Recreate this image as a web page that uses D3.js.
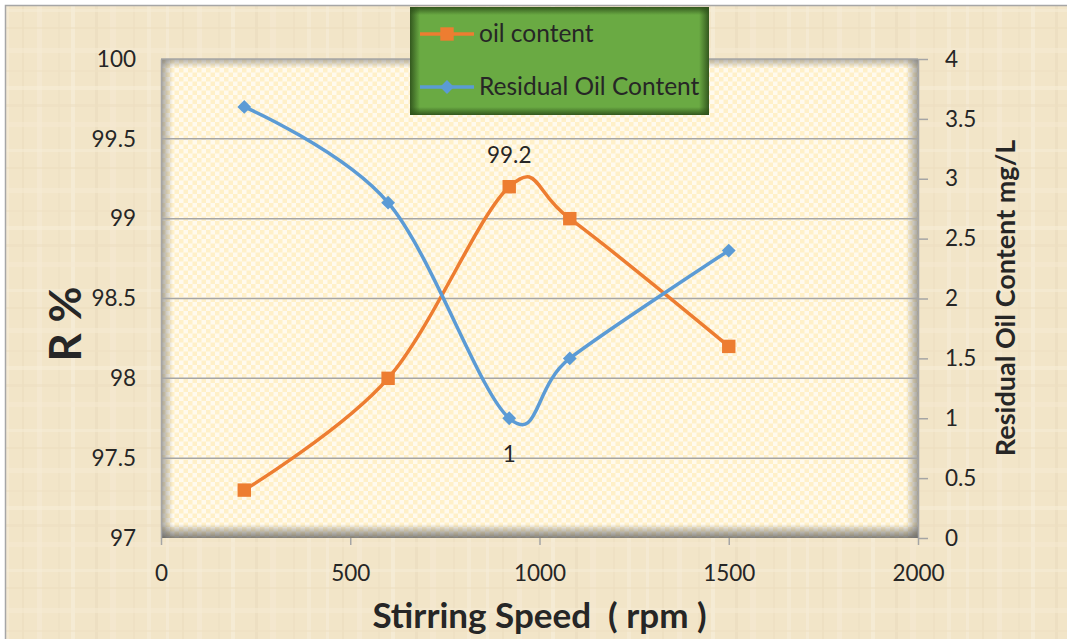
<!DOCTYPE html>
<html>
<head>
<meta charset="utf-8">
<script src="https://cdn.jsdelivr.net/npm/d3@7"></script>
<style>
  html, body { margin: 0; padding: 0; background: #ffffff; }
  svg { display: block; }
  text { font-family: Lato, "Open Sans", sans-serif; fill: #262626; }
</style>
</head>
<body>
<script>
// Stirring speed (rpm) for each run
const speeds = [220, 600, 920, 1080, 1500];
// Removal efficiency R % (left axis)
const removal = [97.3, 98.0, 99.2, 99.0, 98.2];
// Residual oil content, mg/L (right axis)
const residual = [3.6, 2.8, 1.0, 1.5, 2.4];

const xTicks = [0, 500, 1000, 1500, 2000];
const leftTicks = [97, 97.5, 98, 98.5, 99, 99.5, 100];
const rightTicks = [0, 0.5, 1, 1.5, 2, 2.5, 3, 3.5, 4];

const seriesNames = ["oil content", "Residual Oil Content"];
const orange = "#ed7d31", blue = "#5b9bd5";

const W = 1067, H = 639;
const plot = { left: 161, top: 59, right: 918, bottom: 538 };

const svg = d3.select("body").append("svg").attr("width", W).attr("height", H);
const defs = svg.append("defs");

// Parchment texture for the chart background
const parch = defs.append("pattern").attr("id", "parch")
  .attr("patternUnits", "userSpaceOnUse").attr("width", 160).attr("height", 140);
parch.append("rect").attr("width", 160).attr("height", 140).attr("fill", "#f2e5c8");
const vStripes = [[6, 3, "#f6ecd6"], [22, 2, "#eddfc0"], [37, 5, "#f5ead3"], [58, 2, "#efe1c4"],
                  [71, 4, "#f7eed9"], [95, 3, "#ecdebf"], [110, 6, "#f5e9d1"], [133, 2, "#eee0c2"], [147, 4, "#f6ebd5"]];
vStripes.forEach(([x, w, c]) => parch.append("rect").attr("x", x).attr("y", 0).attr("width", w).attr("height", 140).attr("fill", c).attr("opacity", 0.7));
const hStripes = [[9, 3, "#f6ecd6"], [27, 2, "#ecdebf"], [48, 5, "#f5ead2"], [70, 2, "#eee0c3"],
                  [86, 4, "#f7eed9"], [104, 3, "#ecdec0"], [122, 5, "#f5e9d1"]];
hStripes.forEach(([y, h, c]) => parch.append("rect").attr("x", 0).attr("y", y).attr("width", 160).attr("height", h).attr("fill", c).attr("opacity", 0.55));

// Checkered fill for the plot area
const chk = defs.append("pattern").attr("id", "chk")
  .attr("patternUnits", "userSpaceOnUse").attr("width", 9).attr("height", 9)
  .attr("x", plot.left).attr("y", plot.top);
chk.append("rect").attr("width", 9).attr("height", 9).attr("fill", "#fffaee");
chk.append("rect").attr("width", 4.5).attr("height", 4.5).attr("fill", "#fff0c8");
chk.append("rect").attr("x", 4.5).attr("y", 4.5).attr("width", 4.5).attr("height", 4.5).attr("fill", "#fff0c8");

// Edge-shadow gradients
function edgeGrad(id, x1, y1, x2, y2, color, op) {
  const g = defs.append("linearGradient").attr("id", id)
    .attr("x1", x1).attr("y1", y1).attr("x2", x2).attr("y2", y2);
  g.append("stop").attr("offset", 0).attr("stop-color", color).attr("stop-opacity", op);
  g.append("stop").attr("offset", 1).attr("stop-color", color).attr("stop-opacity", 0);
}
edgeGrad("shL", 0, 0, 1, 0, "#6b6b6b", 0.6);
edgeGrad("shR", 1, 0, 0, 0, "#6b6b6b", 0.6);
edgeGrad("shT", 0, 0, 0, 1, "#6b6b6b", 0.5);
edgeGrad("shB", 0, 1, 0, 0, "#5a5a5a", 0.75);
edgeGrad("gL", 0, 0, 1, 0, "#2d4f1a", 0.9);
edgeGrad("gR", 1, 0, 0, 0, "#2d4f1a", 0.9);
edgeGrad("gT", 0, 0, 0, 1, "#2d4f1a", 0.9);
edgeGrad("gB", 0, 1, 0, 0, "#2d4f1a", 0.9);

// Chart background with frame
svg.append("rect").attr("x", 5.5).attr("y", 5.5).attr("width", W).attr("height", H)
  .attr("fill", "url(#parch)").attr("stroke", "#a6a6a6").attr("stroke-width", 1.5);

// Scales
const x = d3.scaleLinear().domain([0, 2000]).range([plot.left, plot.right]);
const yL = d3.scaleLinear().domain([97, 100]).range([plot.bottom, plot.top]);
const yR = d3.scaleLinear().domain([0, 4]).range([plot.bottom, plot.top]);

// Plot area
const pw = plot.right - plot.left, ph = plot.bottom - plot.top;
svg.append("rect").attr("x", plot.left).attr("y", plot.top).attr("width", pw).attr("height", ph)
  .attr("fill", "url(#chk)");
const sh = svg.append("g");
sh.append("rect").attr("x", plot.left).attr("y", plot.top).attr("width", 12).attr("height", ph).attr("fill", "url(#shL)");
sh.append("rect").attr("x", plot.right - 12).attr("y", plot.top).attr("width", 12).attr("height", ph).attr("fill", "url(#shR)");
sh.append("rect").attr("x", plot.left).attr("y", plot.top).attr("width", pw).attr("height", 9).attr("fill", "url(#shT)");
sh.append("rect").attr("x", plot.left).attr("y", plot.bottom - 14).attr("width", pw).attr("height", 14).attr("fill", "url(#shB)");

// Horizontal gridlines from the left axis ticks
svg.append("g").selectAll("line").data(leftTicks.slice(1))
  .join("line")
  .attr("x1", plot.left).attr("x2", plot.right)
  .attr("y1", d => yL(d)).attr("y2", d => yL(d))
  .attr("stroke", "#a5a5a5").attr("stroke-width", 1.5);

// Axes
const axisStyle = g => {
  g.select(".domain").attr("stroke", "#a5a5a5").attr("stroke-width", 1.5);
  g.selectAll(".tick line").attr("stroke", "#a5a5a5").attr("stroke-width", 1.5);
  g.selectAll("text").attr("font-size", 22.5).attr("fill", "#262626")
    .attr("font-family", "Lato, 'Open Sans', sans-serif");
};

svg.append("g").attr("transform", `translate(0,${plot.bottom})`)
  .call(d3.axisBottom(x).tickValues(xTicks).tickFormat(d3.format("d")).tickSize(7).tickSizeOuter(0).tickPadding(20))
  .call(axisStyle)
  .call(g => g.select(".domain").remove());

svg.append("g").attr("transform", `translate(${plot.left},0)`)
  .call(d3.axisLeft(yL).tickValues(leftTicks).tickFormat(d => String(d)).tickSize(0).tickPadding(25))
  .call(axisStyle);

svg.append("g").attr("transform", `translate(${plot.right},0)`)
  .call(d3.axisRight(yR).tickValues(rightTicks).tickFormat(d => String(d)).tickSize(10).tickSizeOuter(0).tickPadding(17))
  .call(axisStyle);

// Series lines (smoothed)
const rows = speeds.map((s, i) => ({ s, r: removal[i], res: residual[i] }));
const curve = d3.curveCardinal.tension(0);
const lineL = d3.line().x(d => x(d.s)).y(d => yL(d.r)).curve(curve);
const lineR = d3.line().x(d => x(d.s)).y(d => yR(d.res)).curve(curve);

svg.append("path").datum(rows).attr("d", lineL)
  .attr("fill", "none").attr("stroke", orange).attr("stroke-width", 3.5);
svg.append("path").datum(rows).attr("d", lineR)
  .attr("fill", "none").attr("stroke", blue).attr("stroke-width", 3.5);

const square = d3.symbol().type(d3.symbolSquare).size(180);
const diamond = d3.symbol().type(d3.symbolSquare).size(95);

svg.append("g").selectAll("path").data(rows).join("path")
  .attr("d", square).attr("fill", orange)
  .attr("transform", d => `translate(${x(d.s)},${yL(d.r)})`);
svg.append("g").selectAll("path").data(rows).join("path")
  .attr("d", diamond).attr("fill", blue)
  .attr("transform", d => `translate(${x(d.s)},${yR(d.res)}) rotate(45)`);

// Data labels on the peak and the minimum
const peak = rows[d3.maxIndex(rows, d => d.r)];
const low = rows[d3.minIndex(rows, d => d.res)];
svg.append("text").attr("x", x(peak.s)).attr("y", yL(peak.r) - 24)
  .attr("text-anchor", "middle").attr("font-size", 22.5).text(String(peak.r));
svg.append("text").attr("x", x(low.s)).attr("y", yR(low.res) + 44)
  .attr("text-anchor", "middle").attr("font-size", 22.5).text(String(low.res));

// Axis titles
svg.append("text").attr("x", (plot.left + plot.right) / 2).attr("y", 628)
  .attr("text-anchor", "middle").attr("font-size", 35).attr("font-weight", "bold")
  .attr("xml:space", "preserve").style("white-space", "pre")
  .text("Stirring Speed  ( rpm )");
svg.append("text").attr("transform", "translate(81,324) rotate(-90)")
  .attr("text-anchor", "middle").attr("font-size", 44).attr("font-weight", "bold")
  .text("R %");
svg.append("text").attr("transform", "translate(1015,298) rotate(-90)")
  .attr("text-anchor", "middle").attr("font-size", 27).attr("font-weight", "bold")
  .text("Residual Oil Content mg/L");

// Legend
const lg = { x: 410, y: 7, w: 299, h: 108 };
const leg = svg.append("g");
leg.append("rect").attr("x", lg.x).attr("y", lg.y).attr("width", lg.w).attr("height", lg.h).attr("fill", "#6aaa43");
leg.append("rect").attr("x", lg.x).attr("y", lg.y).attr("width", 10).attr("height", lg.h).attr("fill", "url(#gL)");
leg.append("rect").attr("x", lg.x + lg.w - 10).attr("y", lg.y).attr("width", 10).attr("height", lg.h).attr("fill", "url(#gR)");
leg.append("rect").attr("x", lg.x).attr("y", lg.y).attr("width", lg.w).attr("height", 8).attr("fill", "url(#gT)");
leg.append("rect").attr("x", lg.x).attr("y", lg.y + lg.h - 8).attr("width", lg.w).attr("height", 8).attr("fill", "url(#gB)");

const legendRows = [
  { name: seriesNames[0], color: orange, sym: square, rot: 0, y: 34 },
  { name: seriesNames[1], color: blue, sym: diamond, rot: 45, y: 87 }
];
legendRows.forEach(r => {
  leg.append("line").attr("x1", 420).attr("x2", 474).attr("y1", r.y).attr("y2", r.y)
    .attr("stroke", r.color).attr("stroke-width", 3.5);
  leg.append("path").attr("d", r.sym).attr("fill", r.color)
    .attr("transform", `translate(447,${r.y}) rotate(${r.rot})`);
  leg.append("text").attr("x", 479).attr("y", r.y + 8).attr("font-size", 24.5).text(r.name);
});
</script>
</body>
</html>
